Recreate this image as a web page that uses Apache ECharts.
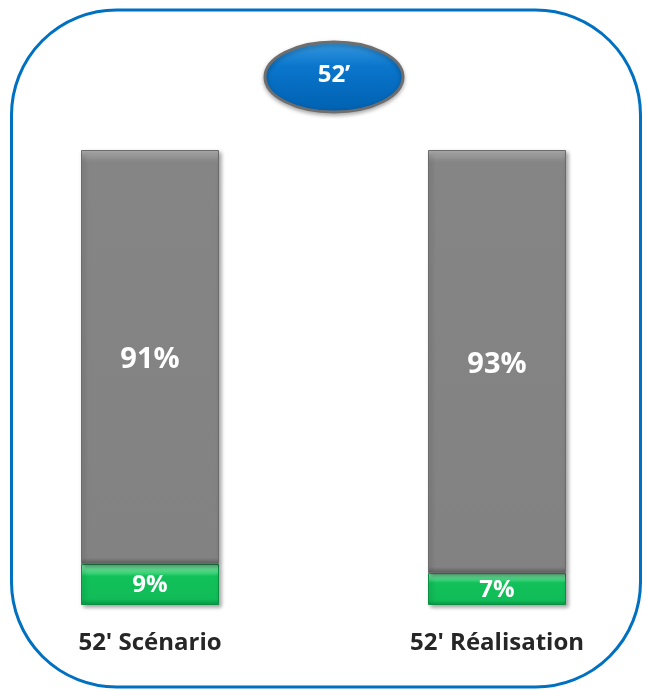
<!DOCTYPE html>
<html>
<head>
<meta charset="utf-8">
<script src="https://cdn.jsdelivr.net/npm/echarts@6/dist/echarts.min.js"></script>
<style>
  html, body { margin: 0; padding: 0; background: #fff; }
  #main { width: 646px; height: 692px; }
</style>
</head>
<body>
<div id="main"></div>
<script>
  // données
  var categories = ["52' Scénario", "52' Réalisation"];
  var partVert = [9, 7];
  var partGris = [91, 93];
  var titre = '52’';

  var chart = echarts.init(document.getElementById('main'));

  // dégradé "biseau" pour les barres
  var grisBiseau = new echarts.graphic.LinearGradient(0, 0, 0, 1, [
    { offset: 0, color: '#b4b4b4' },
    { offset: 0.022, color: '#8c8c8c' },
    { offset: 0.03, color: '#858585' },
    { offset: 0.985, color: '#828282' },
    { offset: 1, color: '#5e5e5e' }
  ]);
  var vertBiseau = new echarts.graphic.LinearGradient(0, 0, 0, 1, [
    { offset: 0, color: '#8eeab2' },
    { offset: 0.22, color: '#3ad277' },
    { offset: 0.3, color: '#12c15a' },
    { offset: 0.85, color: '#10bc57' },
    { offset: 1, color: '#0a9a45' }
  ]);

  var option = {
    animation: false,
    // les catégories sont posées sur les bords de la grille (boundaryGap false)
    grid: { left: 150, right: 149, top: 150, bottom: 87, containLabel: false },
    xAxis: {
      type: 'category',
      data: categories,
      boundaryGap: false,
      axisLine: { show: false },
      axisTick: { show: false },
      splitLine: { show: false },
      axisLabel: {
        margin: 26,
        color: '#262626',
        fontFamily: 'Open Sans',
        fontWeight: 'bold',
        fontSize: 24
      }
    },
    yAxis: {
      type: 'value',
      min: 0,
      max: 100,
      show: false,
      splitLine: { show: false }
    },
    series: [
      {
        name: 'vert',
        type: 'bar',
        stack: 'total',
        barWidth: 138,
        clip: false,
        data: partVert,
        itemStyle: {
          color: vertBiseau,
          borderColor: '#0b8f42',
          borderWidth: 1,
          shadowColor: 'rgba(0,0,0,0.35)',
          shadowBlur: 4,
          shadowOffsetX: 2,
          shadowOffsetY: 2
        },
        label: {
          show: true,
          position: 'inside',
          offset: [0, 1],
          formatter: '{c}%',
          color: '#fff',
          fontFamily: 'Open Sans',
          fontWeight: 'bold',
          fontSize: 24
        }
      },
      {
        name: 'gris',
        type: 'bar',
        stack: 'total',
        barWidth: 138,
        clip: false,
        data: partGris,
        itemStyle: {
          color: grisBiseau,
          borderColor: '#6b6b6b',
          borderWidth: 1,
          shadowColor: 'rgba(0,0,0,0.35)',
          shadowBlur: 4,
          shadowOffsetX: 2,
          shadowOffsetY: 2
        },
        label: {
          show: true,
          position: 'inside',
          offset: [0, 3],
          formatter: '{c}%',
          color: '#fff',
          fontFamily: 'Open Sans',
          fontWeight: 'bold',
          fontSize: 29
        }
      }
    ],
    graphic: [
      // cadre arrondi
      {
        type: 'rect',
        shape: { x: 11.5, y: 10, width: 629, height: 677, r: 105 },
        style: { fill: 'none', stroke: '#0070c0', lineWidth: 3 },
        silent: true
      },
      // ellipse du titre
      {
        type: 'ellipse',
        shape: { cx: 334, cy: 77, rx: 69, ry: 35 },
        style: {
          fill: new echarts.graphic.LinearGradient(0, 0, 0, 1, [
            { offset: 0, color: '#3a9be0' },
            { offset: 0.35, color: '#0a76cc' },
            { offset: 1, color: '#0060b0' }
          ]),
          stroke: '#6e6e6e',
          lineWidth: 3,
          shadowColor: 'rgba(0,0,0,0.3)',
          shadowBlur: 4,
          shadowOffsetY: 2
        },
        silent: true
      },
      {
        type: 'text',
        x: 334,
        y: 75,
        style: {
          text: titre,
          fill: '#fff',
          fontFamily: 'Open Sans',
          fontWeight: 'bold',
          fontSize: 24,
          align: 'center',
          verticalAlign: 'middle'
        },
        silent: true
      }
    ]
  };

  chart.setOption(option);
</script>
</body>
</html>
